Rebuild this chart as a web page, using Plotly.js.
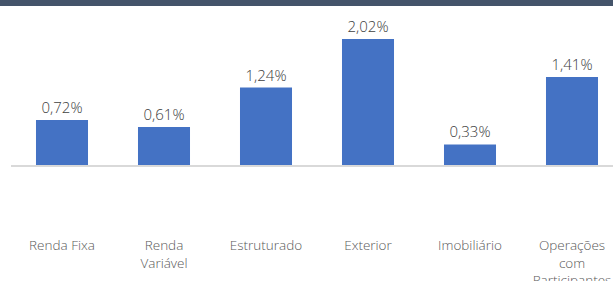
<!DOCTYPE html>
<html>
<head>
<meta charset="utf-8">
<script src="https://cdn.plot.ly/plotly-3.0.1.min.js"></script>
<style>
html,body{margin:0;padding:0;background:#fff;overflow:hidden;}
#band{width:613px;height:6px;background:#44546a;}
#chart{width:613px;height:275px;}
</style>
</head>
<body>
<div id="band"></div>
<div id="chart"></div>
<script>
const categories = ["Renda Fixa", "Renda<br>Variável", "Estruturado", "Exterior", "Imobiliário", "Operações<br>com<br>Participantes"];
const values = [0.72, 0.61, 1.24, 2.02, 0.33, 1.41];
const labels = values.map(v => v.toFixed(2).replace('.', ',') + '%');

const trace = {
  type: 'bar',
  x: categories,
  y: values,
  text: labels,
  textposition: 'outside',
  cliponaxis: false,
  textfont: {family: 'Open Sans, sans-serif', size: 15, color: '#404040', weight: 300},
  marker: {color: '#4472c4', line: {width: 0}},
  hoverinfo: 'none'
};

const layout = {
  width: 613, height: 275,
  margin: {l: 11, r: 0, t: 0, b: 116},
  bargap: 0.49,
  showlegend: false,
  paper_bgcolor: '#ffffff',
  plot_bgcolor: '#ffffff',
  font: {family: 'Open Sans, sans-serif'},
  xaxis: {
    type: 'category',
    range: [-0.5, 5.402],
    showgrid: false,
    zeroline: false,
    showline: true,
    linecolor: '#d9d9d9',
    linewidth: 2,
    ticks: '',
    ticklabelstandoff: 67,
    tickfont: {family: 'Open Sans, sans-serif', size: 13.5, color: '#595959', weight: 300}
  },
  yaxis: {
    range: [0, 2.548],
    visible: false,
    showgrid: false,
    zeroline: false
  }
};

Plotly.newPlot('chart', [trace], layout, {displayModeBar: false, staticPlot: true});
</script>
</body>
</html>
